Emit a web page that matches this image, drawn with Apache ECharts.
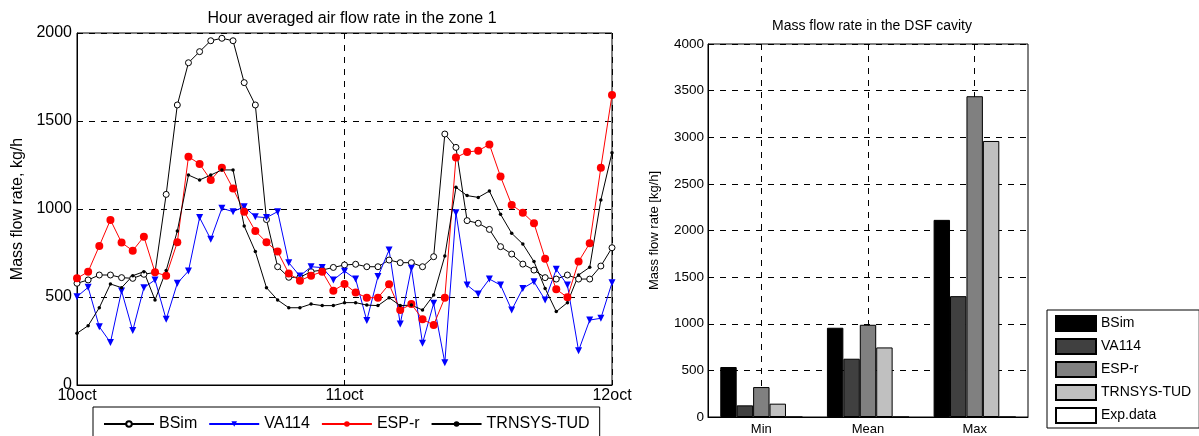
<!DOCTYPE html>
<html><head><meta charset="utf-8">
<script src="https://cdn.jsdelivr.net/npm/echarts@6/dist/echarts.min.js"></script>
<style>html,body{margin:0;padding:0;background:#fff}#c{width:1199px;height:436px}</style>
</head><body><div id="c"></div>
<script>
// ---- Left chart: hourly values, 10oct 00:00 .. 12oct 00:00 ----
const xTickLabels = ['10oct', '11oct', '12oct'];
const bsim = [578,597,625,625,610,606,629,640,1083,1591,1831,1894,1956,1970,1956,1718,1591,940,672,612,612,644,653,668,682,686,672,672,710,695,695,672,729,1426,1350,934,919,884,786,744,687,653,610,602,625,602,602,676,780];
const va114 = [502,555,331,242,534,309,553,597,373,578,648,951,828,1004,985,1013,956,951,985,695,619,672,667,597,647,602,366,616,767,347,663,237,464,127,979,568,517,602,568,426,549,587,483,657,568,195,369,379,581];
const espr = [606,644,790,938,809,763,843,640,621,811,1297,1256,1165,1235,1116,985,875,811,758,634,593,621,644,536,574,525,496,496,572,426,460,373,341,496,1292,1324,1331,1367,1184,1023,979,919,718,544,498,701,805,1235,1648];
const trnsys = [294,337,439,574,553,621,644,483,650,875,1193,1165,1193,1222,1222,903,758,553,483,439,439,460,451,451,468,468,454,451,496,451,454,426,511,733,1123,1076,1066,1102,970,862,801,701,549,417,468,625,669,1051,1320];

// ---- Right chart ----
const barCategories = ['Min', 'Mean', 'Max'];
const barBSim = [536, 957, 2114];
const barVA114 = [125, 625, 1296];
const barESPr = [321, 989, 3440];
const barTRNSYS = [143, 746, 2960];
const barExp = [0, 0, 0];

const toPts = arr => arr.map((v, i) => [i, v]);
const FONT = 'Liberation Sans, Arial, sans-serif';
const dashed = {type: [6, 6], color: '#000', width: 1};
const plain = v => String(v);

const chart = echarts.init(document.getElementById('c'), null, {renderer: 'canvas'});
chart.setOption({
  animation: false,
  textStyle: {fontFamily: FONT, color: '#000'},
  title: [
    {text: 'Hour averaged air flow rate in the zone 1', left: 347, top: 6, textAlign: 'center',
     textStyle: {fontSize: 16, fontWeight: 'normal', color: '#000', fontFamily: FONT}},
    {text: 'Mass flow rate in the DSF cavity', left: 867, top: 14, textAlign: 'center',
     textStyle: {fontSize: 14, fontWeight: 'normal', color: '#000', fontFamily: FONT}}
  ],
  grid: [
    {left: 77, right: 587, top: 33, bottom: 51, show: true, borderColor: '#000', borderWidth: 1},
    {left: 708, right: 171, top: 44, bottom: 19, show: true, borderColor: '#000', borderWidth: 1}
  ],
  xAxis: [
    {type: 'value', gridIndex: 0, min: 0, max: 48, interval: 24,
     axisLine: {show: true, lineStyle: {color: '#000'}},
     axisTick: {show: true, inside: true, length: 5, lineStyle: {color: '#000'}},
     axisLabel: {fontSize: 16, color: '#000', margin: 3, fontFamily: FONT,
       formatter: v => xTickLabels[Math.round(v / 24)]},
     splitLine: {show: true, lineStyle: dashed}},
    {type: 'category', gridIndex: 1, data: barCategories,
     axisLine: {show: true, lineStyle: {color: '#000'}},
     axisTick: {show: false},
     axisLabel: {fontSize: 13, color: '#000', margin: 6, fontFamily: FONT},
     splitLine: {show: false}},
    {type: 'value', gridIndex: 1, min: 0, max: 6, interval: 1, show: true,
     axisLine: {show: false}, axisTick: {show: false}, axisLabel: {show: false},
     splitLine: {show: true, lineStyle: {type: [6, 6], width: 1, color: ['rgba(0,0,0,0)', '#000']}}}
  ],
  yAxis: [
    {type: 'value', gridIndex: 0, min: 0, max: 2000, interval: 500,
     name: 'Mass flow rate, kg/h', nameLocation: 'middle', nameGap: 51,
     nameTextStyle: {fontSize: 16, color: '#000', fontFamily: FONT},
     axisLine: {show: true, lineStyle: {color: '#000'}},
     axisTick: {show: true, inside: true, length: 5, lineStyle: {color: '#000'}},
     axisLabel: {fontSize: 16, color: '#000', margin: 5, fontFamily: FONT, formatter: plain},
     splitLine: {show: true, lineStyle: dashed}},
    {type: 'value', gridIndex: 1, min: 0, max: 4000, interval: 500,
     name: 'Mass flow rate [kg/h]', nameLocation: 'middle', nameGap: 47,
     nameTextStyle: {fontSize: 13, color: '#000', fontFamily: FONT},
     axisLine: {show: true, lineStyle: {color: '#000'}},
     axisTick: {show: true, inside: true, length: 4, lineStyle: {color: '#000'}},
     axisLabel: {fontSize: 13.5, color: '#000', margin: 4, fontFamily: FONT, formatter: plain},
     splitLine: {show: true, lineStyle: dashed}}
  ],
  legend: [
    {data: ['BSim', 'VA114', 'ESP-r', 'TRNSYS-TUD'], left: 93, top: 407, orient: 'horizontal',
     padding: [9, 10, 17, 10], itemGap: 11, itemWidth: 50, itemHeight: 7,
     borderColor: '#000', borderWidth: 1, backgroundColor: '#fff',
     textStyle: {fontSize: 16, color: '#000', fontFamily: FONT}},
    {data: ['BSim ', 'VA114 ', 'ESP-r ', 'TRNSYS-TUD ', 'Exp.data '], left: 1047, top: 310, orient: 'vertical',
     padding: [5, 8, 4, 8], itemGap: 6, itemWidth: 40, itemHeight: 15, icon: 'rect',
     borderColor: '#000', borderWidth: 1, backgroundColor: '#fff',
     formatter: n => n.trim(),
     textStyle: {fontSize: 14, color: '#000', fontFamily: FONT}}
  ],
  series: [
    {name: 'BSim', type: 'line', xAxisIndex: 0, yAxisIndex: 0, data: toPts(bsim),
     symbol: 'circle', symbolSize: 6, color: '#000',
     lineStyle: {width: 1, color: '#000'}, itemStyle: {color: '#fff', borderColor: '#000', borderWidth: 1}},
    {name: 'VA114', type: 'line', xAxisIndex: 0, yAxisIndex: 0, data: toPts(va114),
     symbol: 'triangle', symbolRotate: 180, symbolSize: 7, color: '#0000ff',
     lineStyle: {width: 1, color: '#0000ff'}, itemStyle: {color: '#0000ff'}},
    {name: 'ESP-r', type: 'line', xAxisIndex: 0, yAxisIndex: 0, data: toPts(espr),
     symbol: 'circle', symbolSize: 8, color: '#ff0000',
     lineStyle: {width: 1, color: '#ff0000'}, itemStyle: {color: '#ff0000'}},
    {name: 'TRNSYS-TUD', type: 'line', xAxisIndex: 0, yAxisIndex: 0, data: toPts(trnsys),
     symbol: 'circle', symbolSize: 3.5, color: '#000',
     lineStyle: {width: 1, color: '#000'}, itemStyle: {color: '#000'}},
    {name: 'BSim ', type: 'bar', xAxisIndex: 1, yAxisIndex: 1, data: barBSim, barGap: '0%', barCategoryGap: '23%',
     itemStyle: {color: '#000000', borderColor: '#000', borderWidth: 1}},
    {name: 'VA114 ', type: 'bar', xAxisIndex: 1, yAxisIndex: 1, data: barVA114, barGap: '0%', barCategoryGap: '23%',
     itemStyle: {color: '#404040', borderColor: '#000', borderWidth: 1}},
    {name: 'ESP-r ', type: 'bar', xAxisIndex: 1, yAxisIndex: 1, data: barESPr, barGap: '0%', barCategoryGap: '23%',
     itemStyle: {color: '#808080', borderColor: '#000', borderWidth: 1}},
    {name: 'TRNSYS-TUD ', type: 'bar', xAxisIndex: 1, yAxisIndex: 1, data: barTRNSYS, barGap: '0%', barCategoryGap: '23%',
     itemStyle: {color: '#c0c0c0', borderColor: '#000', borderWidth: 1}},
    {name: 'Exp.data ', type: 'bar', xAxisIndex: 1, yAxisIndex: 1, data: barExp, barGap: '0%', barCategoryGap: '23%',
     itemStyle: {color: '#ffffff', borderColor: '#000', borderWidth: 1}}
  ]
});
</script></body></html>
